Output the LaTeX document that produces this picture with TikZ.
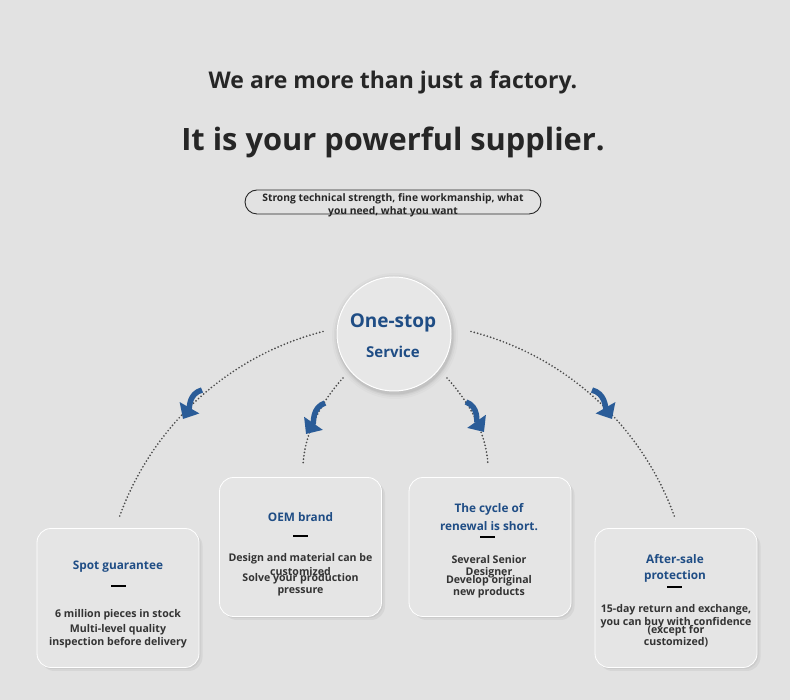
\documentclass[tikz,border=0pt]{standalone}
\usepackage{fontspec}
\setmainfont{Open Sans}
\usetikzlibrary{arrows.meta}
\definecolor{bg}{HTML}{E2E2E2}
\definecolor{cardfill}{HTML}{E5E5E5}
\definecolor{hubfill}{HTML}{E7E7E7}
\definecolor{hubblue}{HTML}{1F4D85}
\definecolor{arrblue}{HTML}{2A5C98}
\definecolor{bodytxt}{HTML}{333333}
\definecolor{headtxt}{HTML}{262626}
\definecolor{dotc}{HTML}{4A4A4A}
\begin{document}
\begin{tikzpicture}[x=1pt,y=1pt,
  dots/.style={draw=dotc, line width=1.9pt, dash pattern=on 0pt off 3.4pt, line cap=round},
  arr/.style={draw=arrblue, line width=5.5pt, -{Triangle[width=22pt,length=13pt]}},
  card/.style={rounded corners=14pt, fill=cardfill, draw=white, line width=0.8pt, minimum width=162pt, minimum height=139pt, inner sep=0pt},
  cshadow/.style={rounded corners=14pt, fill=black, opacity=0.05},
  ctitle/.style={font=\fontsize{11.8}{14}\selectfont\bfseries, text=hubblue, inner sep=0pt},
  cbody/.style={font=\fontsize{10.6}{12}\selectfont\bfseries, text=bodytxt, inner sep=0pt},
  cdash/.style={draw=black, line width=1.8pt},
  pilltxt/.style={font=\fontsize{10.3}{11}\selectfont\bfseries, text=headtxt, inner sep=0pt}
]
\useasboundingbox (0,0) rectangle (790,700);
\fill[bg] (0,0) rectangle (790,700);

% titles
\node[font=\fontsize{23}{26}\selectfont\bfseries, text=headtxt] (t1) at (393,618) {We are more than just a factory.};
\node[font=\fontsize{30.8}{34}\selectfont\bfseries, text=headtxt] (t2) at (393,557.5) {It is your powerful supplier.};

% pill
\node[draw=headtxt, line width=0.9pt, rounded corners=12pt, minimum width=296pt, minimum height=24pt, inner sep=0pt] (pill) at (393,498) {};
\node[pilltxt] (p1) at (393,501.5) {Strong technical strength, fine workmanship, what};
\node[pilltxt] (p2) at (393,488.5) {you need, what you want};

% hub shadow and hub
\foreach \r/\o in {63/0.02,61/0.03,59.5/0.04,58.5/0.05}{\fill[black,opacity=\o] (395,364) circle[radius=\r];}
\node[circle, fill=hubfill, draw=white, line width=1pt, minimum size=114pt, inner sep=0pt] (hub) at (394,366) {};
\node[font=\fontsize{19}{22}\selectfont\bfseries, text=hubblue] (h1) at (393,377) {One-stop};
\node[font=\fontsize{15}{18}\selectfont\bfseries, text=hubblue] (h2) at (393,348) {Service};

% dotted arcs
\coordinate (oL) at (323,368.5);
\coordinate (oR) at (471,368.5);
\draw[dots] (oL) arc[start angle=104.4, end angle=160.4, radius=294];
\draw[dots] (oR) arc[start angle=75.6, end angle=19.6, radius=294];
\coordinate (iL1) at (343,322); \coordinate (iL2) at (303,235);
\coordinate (iR1) at (447,322); \coordinate (iR2) at (488,235);
\draw[dots] (iL1) .. controls (323,300) and (305,270) .. (iL2);
\draw[dots] (iR1) .. controls (467,300) and (486,270) .. (iR2);

% blue arrows
\coordinate (a1s) at (202,310); \coordinate (a1t) at (183,281);
\coordinate (a2s) at (325,297); \coordinate (a2t) at (306,266);
\coordinate (a3s) at (466,298); \coordinate (a3t) at (484,268);
\coordinate (a4s) at (592,310); \coordinate (a4t) at (612,281);
\draw[arr] (a1s) to[out=195,in=60] (a1t);
\draw[arr] (a2s) to[out=200,in=55] (a2t);
\draw[arr] (a3s) to[out=-20,in=125] (a3t);
\draw[arr] (a4s) to[out=-15,in=120] (a4t);

% card shadows
\foreach \cx/\cy in {118/102, 300.5/153, 490/153, 676/102}{
  \fill[cshadow] (\cx-81+3.5,\cy-69.5-3.5) rectangle (\cx+81+3.5,\cy+69.5-3.5);
  \fill[cshadow] (\cx-81+1.5,\cy-69.5-1.5) rectangle (\cx+81+1.5,\cy+69.5-1.5);
}
\node[card] (c1) at (118,102) {};
\node[card] (c2) at (300.5,153) {};
\node[card] (c3) at (490,153) {};
\node[card] (c4) at (676,102) {};

% card 1
\node[ctitle] at (118,133) {Spot guarantee};
\draw[cdash] (111,114) -- (126,114);
\node[cbody] at (118,85) {6 million pieces in stock};
\node[cbody] at (118,70.5) {Multi-level quality};
\node[cbody] at (118,57.5) {inspection before delivery};

% card 2
\node[ctitle] at (300.5,183) {OEM brand};
\draw[cdash] (293,164) -- (308,164);
\node[cbody] at (300.5,141.5) {Design and material can be};
\node[cbody] at (300.5,128.5) {customized};
\node[cbody] at (300.5,121.5) {Solve your production};
\node[cbody] at (300.5,108.5) {pressure};

% card 3
\node[ctitle] at (489,191) {The cycle of};
\node[ctitle] at (489,174) {renewal is short.};
\draw[cdash] (480,163) -- (495,163);
\node[cbody] at (489,140.5) {Several Senior};
\node[cbody] at (489,127.5) {Designer};
\node[cbody] at (489,119.5) {Develop original};
\node[cbody] at (489,107.5) {new products};

% card 4
\node[ctitle] at (675,141) {After-sale};
\node[ctitle] at (675,124) {protection};
\draw[cdash] (667,113) -- (682,113);
\node[cbody] at (676,90.5) {15-day return and exchange,};
\node[cbody] at (676,77.5) {you can buy with confidence};
\node[cbody] at (676,69.5) {(except for};
\node[cbody] at (676,57.5) {customized)};
\end{tikzpicture}
\end{document}
